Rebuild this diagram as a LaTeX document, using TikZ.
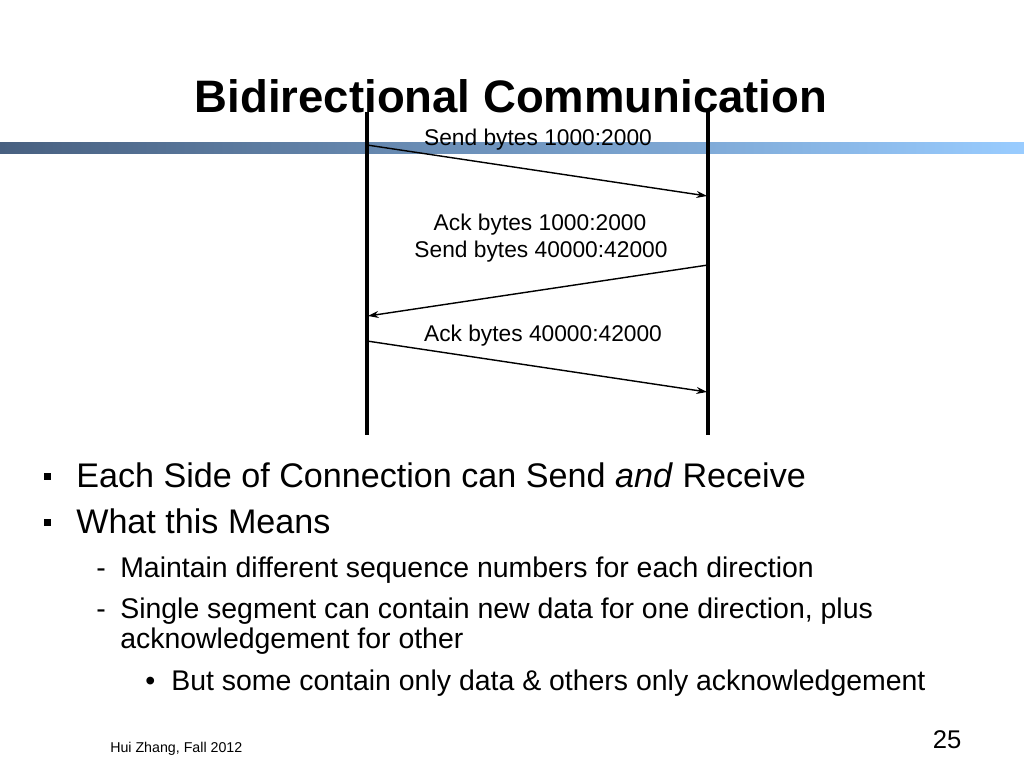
\documentclass[tikz,border=0pt]{standalone}
\usepackage{fontspec}
\setmainfont{Liberation Sans}
\usepackage{tikz}
\usetikzlibrary{arrows.meta,positioning}

\definecolor{bardark}{RGB}{72,96,128}
\definecolor{barlight}{RGB}{153,204,255}

\begin{document}
\begin{tikzpicture}[
  x=0.703125pt, y=-0.703125pt,
  lifeline/.style={line width=3.2pt},
  msg/.style={-{Stealth[length=7.5pt,width=5pt]},line width=1pt},
  lbl/.style={inner sep=0pt,font=\fontsize{16}{18}\selectfont},
  ttl/.style={inner sep=0pt,anchor=base,font=\fontsize{32}{36}\selectfont\bfseries},
  lvone/.style={inner sep=0pt,anchor=base west,font=\fontsize{24}{28}\selectfont},
  lvtwo/.style={inner sep=0pt,anchor=base west,font=\fontsize{20}{22}\selectfont},
  foot/.style={inner sep=0pt,anchor=base west,font=\fontsize{10}{12}\selectfont}
]
\useasboundingbox (0,0) rectangle (1024,768);
\fill[white] (0,0) rectangle (1024,768);

% title and bar
\node[ttl] (title) at (511,113) {Bidirectional Communication};
\shade[left color=bardark,right color=barlight] (0,143) rectangle (1024,154);

% lifelines
\coordinate (ltop) at (367,112);
\coordinate (lbot) at (367,435);
\coordinate (rtop) at (708,112);
\coordinate (rbot) at (708,435);
\draw[lifeline] (ltop) -- (lbot);
\draw[lifeline] (rtop) -- (rbot);

% messages
\coordinate (l1) at (367,145);
\coordinate (r1) at (707,196);
\coordinate (r2) at (708,265);
\coordinate (l2) at (368,316);
\coordinate (l3) at (367,341);
\coordinate (r3) at (707,392);
\draw[msg] (l1) -- (r1);
\draw[msg] (r2) -- (l2);
\draw[msg] (l3) -- (r3);

\node[lbl] (send1) at (538,140) {Send bytes 1000:2000};
\node[lbl] (ack1) at (540,225) {Ack bytes 1000:2000};
\node[lbl] (send2) at (541,252) {Send bytes 40000:42000};
\node[lbl] (ack2) at (543,336) {Ack bytes 40000:42000};

% bullets
\fill (44,473) rectangle (51,480);
\fill (44,519) rectangle (51,526);
\node[lvone] (b1) at (76,487) {Each Side of Connection can Send \textit{and} Receive};
\node[lvone] (b2) at (76,533) {What this Means};
\node[lvtwo] (d1) at (96,577) {-};
\node[lvtwo] (s1) at (120,577) {Maintain different sequence numbers for each direction};
\node[lvtwo] (d2) at (96,618) {-};
\node[lvtwo] (s2) at (120,618) {Single segment can contain new data for one direction, plus};
\node[lvtwo] (s2b) at (120,648) {acknowledgement for other};
\node[lvtwo] (dot) at (145,690) {•};
\node[lvtwo] (t1) at (171,690) {But some contain only data \& others only acknowledgement};

% footer
\node[foot] (auth) at (110,752) {Hui Zhang, Fall 2012};
\node[inner sep=0pt,anchor=base,font=\fontsize{18}{20}\selectfont] (pg) at (947,748) {25};
\end{tikzpicture}
\end{document}
